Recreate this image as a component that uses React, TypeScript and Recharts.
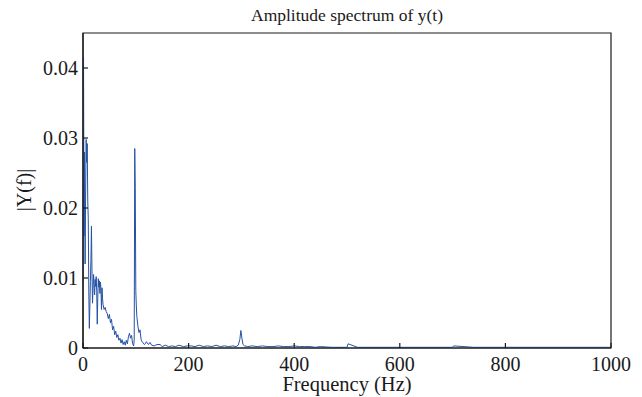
import React from "react";
import { LineChart, Line, XAxis, YAxis, ReferenceArea } from "recharts";

// frequency bins (Hz) and |Y(f)|
const freqHz = [
  0, 1, 2, 3, 4, 5, 6, 7, 8, 9, 10, 11, 12, 13, 14, 15, 16, 17, 18, 19, 20,
  21, 22, 23, 24, 25, 26, 27, 28, 29, 30, 31, 32, 33, 34, 35, 36, 37, 38, 40,
  42, 44, 46, 48, 50, 52, 54, 56, 58, 60, 62, 64, 66, 68, 70, 72, 74, 76, 78,
  80, 82, 84, 86, 88, 90, 92, 94, 96, 97, 98, 99, 100, 101, 102, 104, 106, 108,
  110, 112, 114, 116, 118, 120, 124, 127, 130, 135, 140, 146, 150, 156, 162,
  168, 175, 182, 190, 198, 205, 212, 220, 228, 236, 244, 252, 260, 268, 276,
  284, 290, 294, 297, 299, 301, 303, 306, 312, 320, 330, 340, 350, 360, 370,
  380, 390, 400, 410, 420, 430, 440, 450, 470, 490, 498, 500, 502, 520, 560,
  600, 640, 680, 698, 700, 702, 740, 800, 860, 920, 1000,
];

const amplitude = [
  0.009, 0.0415, 0.016, 0.028, 0.012, 0.022, 0.0298, 0.0265, 0.0292, 0.021,
  0.0185, 0.008, 0.0028, 0.006, 0.0095, 0.0125, 0.0174, 0.011, 0.0064, 0.0085,
  0.0105, 0.0092, 0.0076, 0.0098, 0.0088, 0.0102, 0.0081, 0.0034, 0.0072,
  0.0099, 0.0087, 0.0096, 0.0078, 0.0094, 0.0085, 0.0055, 0.0086, 0.0071,
  0.0062, 0.0055, 0.0058, 0.0052, 0.0049, 0.0042, 0.0048, 0.0036, 0.0041,
  0.0026, 0.0031, 0.0019, 0.0024, 0.0015, 0.0019, 0.0011, 0.0014, 0.0007,
  0.0012, 0.0005, 0.0009, 0.0004, 0.0011, 0.0006, 0.0016, 0.0021, 0.0014,
  0.0018, 0.0006, 0.0003, 0.0012, 0.0285, 0.0228, 0.0082, 0.006, 0.0045,
  0.0031, 0.0022, 0.0026, 0.0012, 0.0009, 0.0007, 0.0005, 0.0006, 0.0009,
  0.0005, 0.0008, 0.0004, 0.0003, 0.0005, 0.0005, 0.0002, 0.0004, 0.0002,
  0.0003, 0.0002, 0.0004, 0.0002, 0.0003, 0.0003, 0.0002, 0.0004, 0.0002,
  0.0003, 0.0002, 0.0004, 0.0002, 0.0003, 0.0002, 0.0003, 0.0002, 0.0004,
  0.0012, 0.0025, 0.0014, 0.0005, 0.0003, 0.0002, 0.0003, 0.0002, 0.0003,
  0.0002, 0.0002, 0.0003, 0.0002, 0.0002, 0.0003, 0.0002, 0.0002, 0.0002,
  0.0001, 0.0002, 0.0001, 0.0001, 0.0001, 0.0001, 0.0006, 0.0001, 0.0001,
  0.0001, 0.0001, 0.0001, 0.0001, 0.0001, 0.0003, 0.0001, 0.0001, 0.0001,
  0.0001, 0.0001, 0.0001,
];

const xTicks = [0, 200, 400, 600, 800, 1000];
const yTicks = [0, 0.01, 0.02, 0.03, 0.04];

const data = freqHz.map((f, i) => ({ f, a: amplitude[i] }));

const FONT = "'Liberation Serif', 'Times New Roman', serif";
const INK = "#1a1a1a";

function XTick({ x, y, payload }: any) {
  return (
    <g>
      <line x1={x} x2={x} y1={y} y2={y - 5} stroke={INK} strokeWidth={1.2} />
      <text x={x} y={y + 23} textAnchor="middle" fontFamily={FONT} fontSize={20} fill={INK}>
        {payload.value}
      </text>
    </g>
  );
}

function YTick({ x, y, payload }: any) {
  return (
    <g>
      <line x1={x} x2={x + 5} y1={y} y2={y} stroke={INK} strokeWidth={1.2} />
      <text x={x - 5} y={y + 7} textAnchor="end" fontFamily={FONT} fontSize={20} fill={INK}>
        {payload.value === 0 ? "0" : payload.value.toFixed(2)}
      </text>
    </g>
  );
}

export default function App() {
  return (
    <div style={{ position: "absolute", left: 0, top: 0, width: 642, height: 397, background: "#fff" }}>
      <LineChart width={642} height={397} data={data} margin={{ top: 33, right: 31, bottom: 0, left: 0 }}>
        <XAxis
          type="number"
          dataKey="f"
          domain={[0, 1000]}
          ticks={xTicks}
          height={49}
          tickSize={0}
          tickMargin={0}
          tickLine={false}
          tick={<XTick />}
          stroke={INK}
          strokeWidth={1.2}
          allowDataOverflow
        />
        <YAxis
          type="number"
          domain={[0, 0.045]}
          ticks={yTicks}
          width={83}
          tickSize={0}
          tickMargin={0}
          tickLine={false}
          tick={<YTick />}
          stroke={INK}
          strokeWidth={1.2}
          allowDataOverflow
        />
        <ReferenceArea x1={0} x2={1000} y1={0} y2={0.045} fill="none" stroke={INK} strokeWidth={1.2} ifOverflow="visible" />
        <Line
          type="linear"
          dataKey="a"
          stroke="#2452a5"
          strokeWidth={1}
          dot={false}
          isAnimationActive={false}
        />
      </LineChart>
      <svg width={642} height={397} style={{ position: "absolute", left: 0, top: 0, pointerEvents: "none" }}>
        <text x={347} y={21} textAnchor="middle" fontFamily={FONT} fontSize={17.5} fill={INK}>
          Amplitude spectrum of y(t)
        </text>
        <text x={347} y={391} textAnchor="middle" fontFamily={FONT} fontSize={20.5} fill={INK}>
          Frequency (Hz)
        </text>
        <text x={31} y={190} textAnchor="middle" fontFamily={FONT} fontSize={20} fill={INK} transform="rotate(-90 31 190)">
          |Y(f)|
        </text>
      </svg>
    </div>
  );
}
